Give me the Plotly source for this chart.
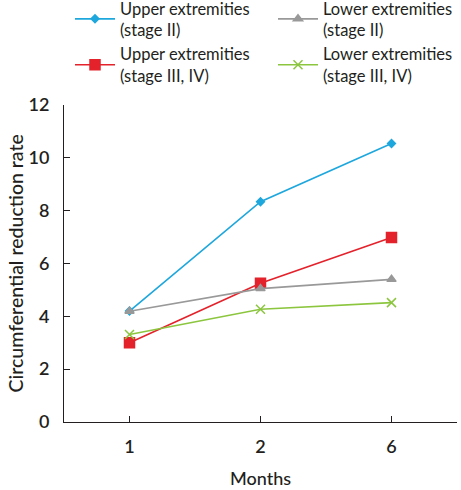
import plotly.graph_objects as go

months = ["1", "2", "6"]
upper_stage2 = [4.2, 8.34, 10.54]
upper_stage34 = [3.0, 5.25, 6.98]
lower_stage2 = [4.19, 5.05, 5.4]
lower_stage34 = [3.31, 4.27, 4.52]

names = ["Upper extremities<br>(stage II)", "Upper extremities<br>(stage III, IV)",
         "Lower extremities<br>(stage II)", "Lower extremities<br>(stage III, IV)"]
series = [upper_stage2, upper_stage34, lower_stage2, lower_stage34]
colors = ["#1ea7dd", "#e3222b", "#999999", "#8cc63f"]
symbols = ["diamond", "square", "triangle-up", "x-thin"]
sizes = [6, 10, 8, 9]
legends = ["legend", "legend", "legend2", "legend2"]

font = "Lato, 'Open Sans', sans-serif"
fig = go.Figure()
for n, s, c, sym, sz, lg in zip(names, series, colors, symbols, sizes, legends):
    fig.add_trace(go.Scatter(
        x=list(range(len(months))), y=s, name=n, mode="lines+markers",
        line=dict(color=c, width=1.6), legend=lg,
        marker=dict(symbol=sym, size=sz, color=c, line=dict(color=c, width=1.5)),
    ))

legend_common = dict(orientation="v", y=1.36, xref="container", yref="paper",
                     yanchor="top", xanchor="left", tracegroupgap=0, itemwidth=40,
                     font=dict(size=16.5, family=font, color="#231f20"))

fig.update_layout(
    width=461, height=490,
    margin=dict(l=64, r=4, t=105, b=68, autoexpand=False),
    plot_bgcolor="white", paper_bgcolor="white",
    font=dict(family=font, color="#231f20"),
    showlegend=True,
    legend=dict(x=70 / 461, **legend_common),
    legend2=dict(x=273 / 461, **legend_common),
    xaxis=dict(
        tickmode="array", tickvals=list(range(len(months))), ticktext=months,
        range=[-0.5, 2.5], showline=True, linecolor="#231f20", linewidth=1,
        ticks="inside", ticklen=6, tickcolor="#231f20", showgrid=False, zeroline=False,
        tickfont=dict(size=18, family=font, weight=600), ticklabelstandoff=8,
        title=dict(text="Months", font=dict(size=18, family=font, weight=500), standoff=16),
    ),
    yaxis=dict(
        range=[0, 12], dtick=2, showline=True, linecolor="#231f20", linewidth=1,
        ticks="inside", ticklen=6, tickcolor="#231f20", showgrid=False, zeroline=False,
        tickfont=dict(size=18, family=font, weight=600), ticklabelstandoff=10,
    ),
    annotations=[dict(text="Circumferential reduction rate", textangle=-90,
                      xref="paper", yref="paper", x=0, y=0.5, xshift=-49,
                      xanchor="center", yanchor="middle", showarrow=False,
                      font=dict(size=19.5, family=font, weight=500))],
)
fig.write_html("out.html", config={"displayModeBar": False},
               post_script="document.body.style.margin='0';")
